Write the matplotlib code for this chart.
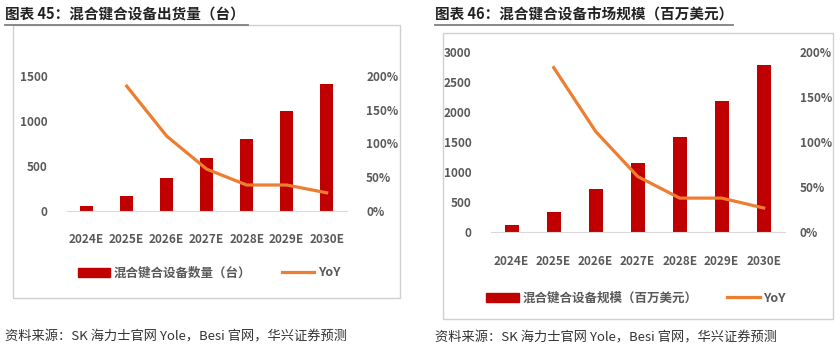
import matplotlib
matplotlib.use('Agg')
import matplotlib.pyplot as plt
import matplotlib.ticker as ticker
from matplotlib.patches import Rectangle
from matplotlib.lines import Line2D
import numpy as np

plt.rcParams['font.family'] = ['Noto Sans CJK SC', 'DejaVu Sans']

years = ['2024E', '2025E', '2026E', '2027E', '2028E', '2029E', '2030E']
units = [59, 170, 363, 585, 803, 1114, 1411]
units_yoy = [np.nan, 1.85, 1.11, 0.62, 0.385, 0.385, 0.27]
market = [117, 333, 717, 1150, 1588, 2188, 2793]
market_yoy = [np.nan, 1.83, 1.12, 0.62, 0.38, 0.38, 0.27]

W, H = 840, 351
fig = plt.figure(figsize=(W / 100, H / 100), dpi=100)

BAR = '#C00000'
LINE = '#ED7D31'
GREY = '#595959'


def fx(px):
    return px / W


def fy(py):
    return 1 - py / H


def panel(box, ax_px, vals, yoy, ymax, ystep, title, title_x, ul_end, leg_label, leg_xy, rpad):
    # outer frame
    x0, y0, x1, y1 = box
    fig.patches.append(Rectangle((fx(x0), fy(y1)), fx(x1 - x0), (y1 - y0) / H,
                                 transform=fig.transFigure, fill=False,
                                 edgecolor='#d0d0d0', lw=1.0))
    # title + underline
    fig.text(fx(title_x), fy(15), title, fontsize=10.5, fontweight='bold',
             color='#222222', va='center', ha='left')
    fig.lines.append(Line2D([fx(title_x), fx(ul_end)], [fy(24.5), fy(24.5)],
                            transform=fig.transFigure, color='#7f7f7f', lw=1.3))

    l, b, r, t = ax_px
    ax = fig.add_axes([fx(l), fy(b), fx(r - l), (b - t) / H])
    x = np.arange(len(years))
    ax.bar(x, vals, width=0.33, color=BAR, zorder=2)
    ax.set_xlim(-0.5, len(years) - 0.5)
    ax.set_ylim(0, ymax)
    ax.yaxis.set_major_locator(ticker.MultipleLocator(ystep))
    ax.set_xticks(x)
    ax.set_xticklabels(years)
    for s in ['top', 'left', 'right']:
        ax.spines[s].set_visible(False)
    ax.spines['bottom'].set_color('#d9d9d9')
    ax.tick_params(length=0, colors=GREY, labelsize=8.5)
    ax.tick_params(axis='y', pad=14)
    ax.tick_params(axis='x', pad=16)
    for lab in ax.get_xticklabels() + ax.get_yticklabels():
        lab.set_fontweight('bold')

    ax2 = ax.twinx()
    ax2.plot(x, yoy, color=LINE, lw=2.3, zorder=3)
    ax2.set_ylim(0, 2.0)
    ax2.yaxis.set_major_locator(ticker.MultipleLocator(0.5))
    ax2.yaxis.set_major_formatter(ticker.FuncFormatter(lambda v, p: f'{v * 100:.0f}%'))
    for s in ['top', 'left', 'right', 'bottom']:
        ax2.spines[s].set_visible(False)
    ax2.tick_params(length=0, colors=GREY, labelsize=8.5, pad=rpad)
    for lab in ax2.get_yticklabels():
        lab.set_fontweight('bold')

    handles = [Rectangle((0, 0), 1, 1, color=BAR),
               Line2D([], [], color=LINE, lw=2.3)]
    leg = fig.legend(handles, [leg_label, 'YoY'], ncol=2, frameon=False,
                     loc='center', bbox_to_anchor=(fx(leg_xy[0]), fy(leg_xy[1])),
                     fontsize=9, handlelength=2.6, handletextpad=0.3,
                     columnspacing=2.4)
    for txt in leg.get_texts():
        txt.set_color(GREY)
        txt.set_fontweight('bold')
    return ax


panel((13, 25, 400, 298), (66.7, 211, 346.7, 76), units, units_yoy, 1500, 500,
      '图表 45：混合键合设备出货量（台）', 5, 248,
      '混合键合设备数量（台）', (209, 273), 14)

panel((443, 33, 833, 319), (490.7, 232.3, 784.7, 52.3), market, market_yoy, 3000, 500,
      '图表 46：混合键合设备市场规模（百万美元）', 435, 733,
      '混合键合设备规模（百万美元）', (636, 298), 11)

src = '资料来源：SK 海力士官网 Yole，Besi 官网，华兴证券预测'
fig.text(fx(5), fy(337), src, fontsize=9.5, color='#333333', va='center', ha='left')
fig.text(fx(435), fy(338), src, fontsize=9.5, color='#333333', va='center', ha='left')

fig.savefig('out.png', dpi=100)
